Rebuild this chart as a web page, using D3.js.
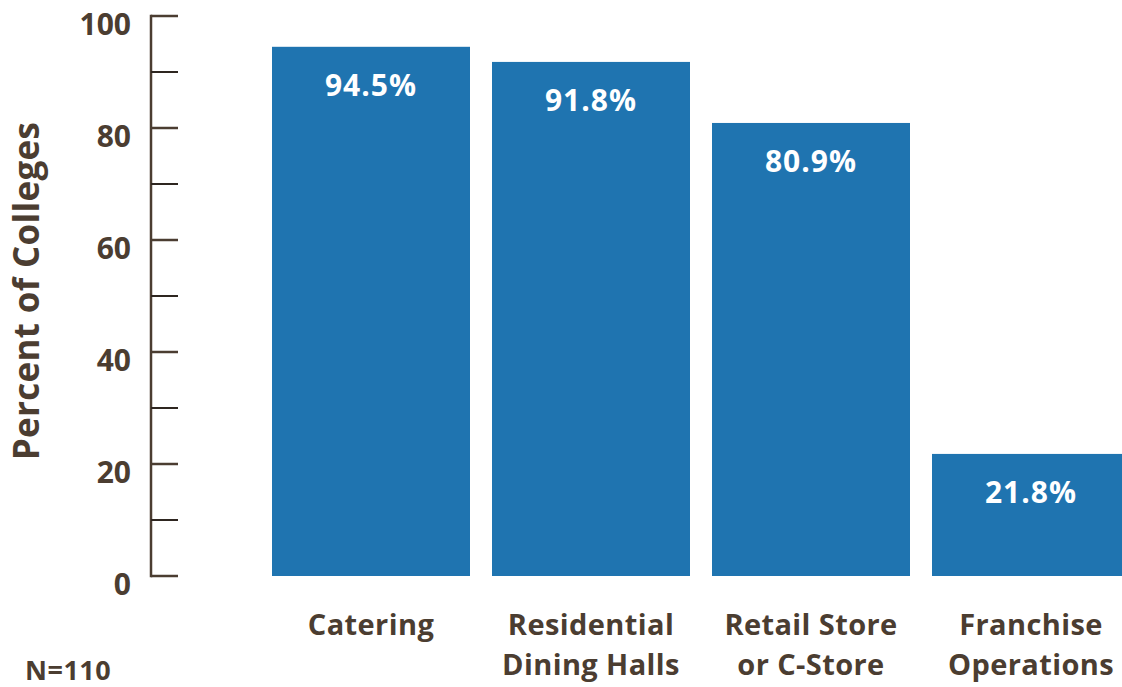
<!DOCTYPE html>
<html>
<head>
<meta charset="utf-8">
<script src="https://cdn.jsdelivr.net/npm/d3@7"></script>
<style>
  html, body { margin: 0; padding: 0; background: #ffffff; }
  svg { display: block; }
  text { font-family: "Open Sans", Lato, sans-serif; font-weight: 700; }
</style>
</head>
<body>
<svg id="chart" width="1122" height="687"></svg>
<script>
// Share of colleges offering each type of dining operation
const categories = [
  ["Catering"],
  ["Residential", "Dining Halls"],
  ["Retail Store", "or C-Store"],
  ["Franchise", "Operations"]
];
const values = [94.5, 91.8, 80.9, 21.8];
const majorTicks = [0, 20, 40, 60, 80, 100];
const minorTicks = [10, 30, 50, 70, 90];

const brown = "#4b3d31";
const blue = "#1f74b0";

const svg = d3.select("#chart");

const y = d3.scaleLinear().domain([0, 100]).range([576, 16]);
const x = d3.scaleBand()
  .domain(d3.range(values.length))
  .range([261, 1141])
  .paddingInner(0.1)
  .paddingOuter(0.05);

const axisX = 151;

// Y axis: spine, major ticks with labels, minor ticks without
const ax = svg.append("g").attr("transform", `translate(${axisX},0)`);
ax.append("line")
  .attr("x1", 0).attr("x2", 0)
  .attr("y1", y(100) - 1.25).attr("y2", y(0) + 1.25)
  .attr("stroke", brown).attr("stroke-width", 2.5);
ax.selectAll("line.major").data(majorTicks).join("line")
  .attr("class", "major")
  .attr("x1", 0).attr("x2", 27)
  .attr("y1", d => y(d)).attr("y2", d => y(d))
  .attr("stroke", brown).attr("stroke-width", 2.5);
ax.selectAll("line.minor").data(minorTicks).join("line")
  .attr("class", "minor")
  .attr("x1", 0).attr("x2", 27)
  .attr("y1", d => y(d)).attr("y2", d => y(d))
  .attr("stroke", "#2e2620").attr("stroke-width", 2);
ax.selectAll("text").data(majorTicks).join("text")
  .attr("x", -20)
  .attr("y", d => y(d) + 19)
  .attr("text-anchor", "end")
  .attr("font-size", 30)
  .attr("fill", brown)
  .text(d => d);

// Axis title
svg.append("text")
  .attr("transform", "translate(39,291) rotate(-90)")
  .attr("text-anchor", "middle")
  .attr("font-size", 35)
  .attr("letter-spacing", 0.3)
  .attr("fill", brown)
  .text("Percent of Colleges");

// Bars
svg.selectAll("rect.bar").data(values).join("rect")
  .attr("class", "bar")
  .attr("x", (d, i) => x(i))
  .attr("y", d => y(d))
  .attr("width", x.bandwidth())
  .attr("height", d => y(0) - y(d))
  .attr("fill", blue);

// Value labels inside bars
svg.selectAll("text.val").data(values).join("text")
  .attr("class", "val")
  .attr("x", (d, i) => x(i) + x.bandwidth() / 2)
  .attr("y", d => y(d) + 49)
  .attr("text-anchor", "middle")
  .attr("font-size", 30)
  .attr("letter-spacing", 1)
  .attr("fill", "#ffffff")
  .text(d => d.toFixed(1) + "%");

// Category labels
const cat = svg.selectAll("text.cat").data(categories).join("text")
  .attr("class", "cat")
  .attr("text-anchor", "middle")
  .attr("font-size", 29)
  .attr("letter-spacing", 0.4)
  .attr("fill", brown);
cat.selectAll("tspan").data((d, i) => d.map(t => ({ t, i }))).join("tspan")
  .attr("x", d => x(d.i) + x.bandwidth() / 2)
  .attr("y", (d, j) => 635 + j * 40)
  .text(d => d.t);

// Sample size note
svg.append("text")
  .attr("x", 25).attr("y", 680)
  .attr("font-size", 27)
  .attr("letter-spacing", 0.5)
  .attr("fill", brown)
  .text("N=110");
</script>
</body>
</html>
